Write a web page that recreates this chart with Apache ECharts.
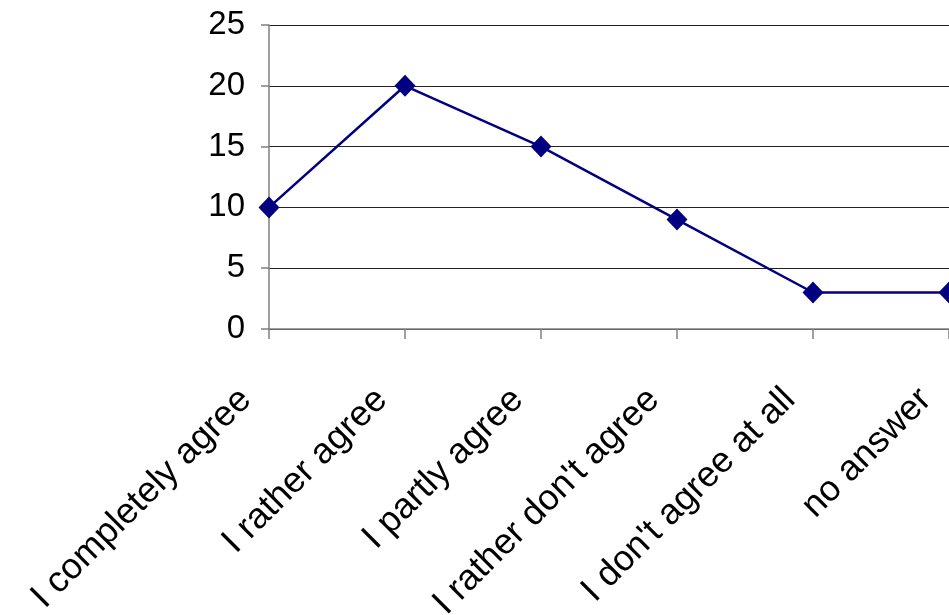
<!DOCTYPE html>
<html>
<head>
<meta charset="utf-8">
<script src="https://cdn.jsdelivr.net/npm/echarts@6/dist/echarts.min.js"></script>
<style>
  html, body { margin: 0; padding: 0; background: #fff; overflow: hidden; }
  #chart { width: 949px; height: 615px; }
</style>
</head>
<body>
<div id="chart"></div>
<script>
// Survey answers and how many respondents chose each one
const categories = [
  'I completely agree',
  'I rather agree',
  'I partly agree',
  "I rather don't agree",
  "I don't agree at all",
  'no answer'
];
const counts = [10, 20, 15, 9, 3, 3];
const yTicks = { min: 0, max: 25, interval: 5 };

const chart = echarts.init(document.getElementById('chart'));
chart.setOption({
  animation: false,
  backgroundColor: '#ffffff',
  grid: {
    left: 269, right: 0, top: 25, bottom: 286,
    containLabel: false,
    outerBoundsMode: 'none'
  },
  xAxis: {
    type: 'category',
    data: categories,
    boundaryGap: false,
    axisLine: { lineStyle: { color: '#808080', width: 1.5 } },
    axisTick: { show: true, length: 10, alignWithLabel: true, lineStyle: { color: '#808080', width: 1.5 } },
    axisLabel: {
      rotate: 45,
      interval: 0,
      margin: 42,
      padding: [0, 33, 0, 0],
      fontFamily: 'Liberation Sans, Arial, sans-serif',
      fontSize: 36,
      color: '#000'
    },
    splitLine: { show: false }
  },
  yAxis: {
    type: 'value',
    min: yTicks.min,
    max: yTicks.max,
    interval: yTicks.interval,
    axisLine: { show: true, lineStyle: { color: '#808080', width: 1.5 } },
    axisTick: { show: true, length: 8, lineStyle: { color: '#808080', width: 1.5 } },
    axisLabel: {
      margin: 24,
      fontFamily: 'Liberation Sans, Arial, sans-serif',
      fontSize: 33,
      color: '#000'
    },
    splitLine: { show: true, lineStyle: { color: '#222', width: 1 } }
  },
  series: [{
    type: 'line',
    data: counts,
    symbol: 'diamond',
    symbolSize: [21, 22],
    showAllSymbol: true,
    clip: false,
    lineStyle: { color: '#000080', width: 2.5 },
    itemStyle: { color: '#000080' }
  }]
});
</script>
</body>
</html>
